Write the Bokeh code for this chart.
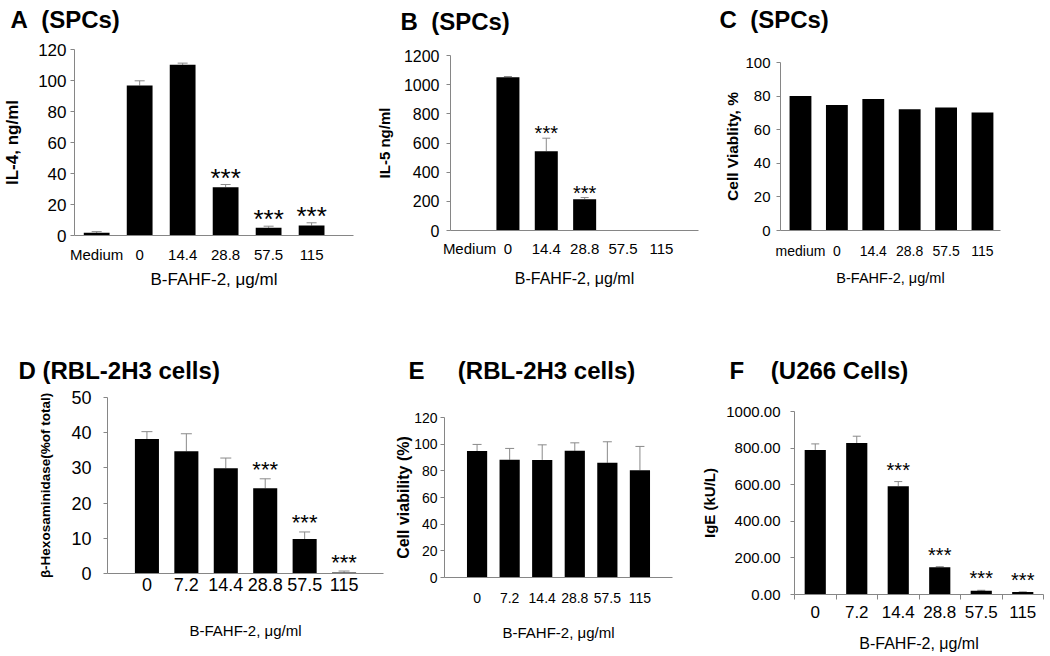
from bokeh.plotting import figure
from bokeh.layouts import row, column
from bokeh.models import ColumnDataSource, Whisker, TeeHead, FixedTicker, Range1d, NumeralTickFormatter
from bokeh.core.properties import value
from bokeh.embed import file_html
from bokeh.resources import INLINE

FONT = "Liberation Sans"
AXIS_GRAY = "#868686"
ERR_GRAY = "#8a8a8a"
XTITLE = "B-FAHF-2, \u03bcg/ml"

# ---------------- data ----------------
a_cats = ["Medium", "0", "14.4", "28.8", "57.5", "115"]
a_vals = [1.7, 96.8, 110.1, 31.2, 5.0, 6.4]
a_errs = [0.8, 3.0, 1.1, 1.7, 1.0, 1.8]
a_stars = [0, 0, 0, 1, 1, 1]
a_yticks = [0, 20, 40, 60, 80, 100, 120]

b_cats = ["Medium", "0", "14.4", "28.8", "57.5", "115"]
b_vals = [0, 1051, 544, 215, 0, 0]
b_errs = [0, 5, 89, 11, 0, 0]
b_stars = [0, 0, 1, 1, 0, 0]
b_yticks = [0, 200, 400, 600, 800, 1000, 1200]

c_cats = ["medium", "0", "14.4", "28.8", "57.5", "115"]
c_vals = [80.0, 74.7, 78.3, 72.2, 73.2, 70.2]
c_yticks = [0, 20, 40, 60, 80, 100]

d_cats = ["0", "7.2", "14.4", "28.8", "57.5", "115"]
d_vals = [38.2, 34.7, 29.9, 24.2, 9.8, 0.3]
d_errs = [2.1, 5.0, 2.9, 2.7, 2.0, 0.4]
d_stars = [0, 0, 0, 1, 1, 1]
d_yticks = [0, 10, 20, 30, 40, 50]

e_cats = ["0", "7.2", "14.4", "28.8", "57.5", "115"]
e_vals = [94.8, 88.3, 88.2, 95.0, 86.0, 80.5]
e_errs = [5.0, 8.5, 11.3, 6.0, 15.8, 17.8]
e_yticks = [0, 20, 40, 60, 80, 100, 120]

f_cats = ["0", "7.2", "14.4", "28.8", "57.5", "115"]
f_vals = [790, 828, 592, 149, 20, 13]
f_errs = [33, 37, 25, 3, 3, 1.5]
f_stars = [0, 0, 1, 1, 1, 1]
f_yticks = [0, 200, 400, 600, 800, 1000]


def title_strip(text, w, h, tx, ty):
    """A thin figure holding only the panel heading (y axis flipped: 0 at top)."""
    t = figure(width=w, height=h, output_backend="svg", toolbar_location=None,
               x_axis_type=None, y_axis_type=None,
               x_range=Range1d(0, w), y_range=Range1d(h, 0),
               min_border_left=0, min_border_right=0, min_border_top=0, min_border_bottom=0)
    t.outline_line_color = None
    t.xgrid.grid_line_color = None
    t.ygrid.grid_line_color = None
    t.background_fill_color = "white"
    t.border_fill_color = "white"
    t.text(x=[tx], y=[ty], text=[text], text_font=value(FONT), text_font_size="24px",
           text_font_style="bold", text_color="black", text_align="left",
           text_baseline="alphabetic")
    return t


def panel(cats, vals, errs, stars, yticks, st):
    xs = [i + st["shift"] for i in range(len(cats))]
    p = figure(width=st["w"], height=st["h"], output_backend="svg", toolbar_location=None,
               x_range=Range1d(st["xr"][0], st["xr"][1]), y_range=Range1d(yticks[0], yticks[-1]),
               min_border_left=st["mb"][0], min_border_right=st["mb"][1],
               min_border_top=st["mb"][2], min_border_bottom=st["mb"][3])
    p.outline_line_color = None
    p.xgrid.grid_line_color = None
    p.ygrid.grid_line_color = None
    p.background_fill_color = "white"
    p.border_fill_color = "white"

    src = ColumnDataSource(dict(x=xs, top=vals))
    p.vbar(x="x", top="top", width=st["bw"], source=src, fill_color="black", line_color=None)

    if errs is not None:
        upper = [v + e for v, e in zip(vals, errs)]
        wsrc = ColumnDataSource(dict(x=xs, upper=upper, lower=vals))
        wk = Whisker(source=wsrc, base="x", upper="upper", lower="lower", dimension="height",
                     line_color=ERR_GRAY, line_width=1,
                     upper_head=TeeHead(size=st["cap"], line_color=ERR_GRAY, line_width=1),
                     lower_head=None)
        p.add_layout(wk)
        if stars is not None:
            sx = [x for x, s in zip(xs, stars) if s]
            sy = [u for u, s in zip(upper, stars) if s]
            p.text(x=sx, y=sy, text=["***"] * len(sx), text_font=value(FONT),
                   text_font_size=st["star_fs"], text_align="center", text_baseline="alphabetic",
                   y_offset=st["star_off"], text_color="black")

    # y axis
    ya = p.yaxis[0]
    ya.ticker = FixedTicker(ticks=yticks, minor_ticks=[])
    ya.axis_line_color = AXIS_GRAY
    ya.major_tick_line_color = AXIS_GRAY
    ya.major_tick_in = 0
    ya.major_tick_out = 4
    ya.minor_tick_line_color = None
    ya.major_label_text_font = FONT
    ya.major_label_text_font_size = st["yt_fs"]
    ya.major_label_text_color = "black"
    ya.major_label_standoff = st["yt_stand"]
    ya.axis_label = st["ylabel"]
    ya.axis_label_text_font = FONT
    ya.axis_label_text_font_size = st["yl_fs"]
    ya.axis_label_text_font_style = "bold"
    ya.axis_label_text_color = "black"
    ya.axis_label_standoff = st["yl_stand"]
    if st.get("yfmt"):
        ya.formatter = NumeralTickFormatter(format=st["yfmt"])

    # x axis
    xa = p.xaxis[0]
    xa.ticker = FixedTicker(ticks=xs, minor_ticks=st.get("minor", []))
    xa.major_label_overrides = {x: c for x, c in zip(xs, cats)}
    xa.axis_line_color = AXIS_GRAY
    xa.major_tick_line_color = None
    xa.major_tick_in = 0
    xa.major_tick_out = 0
    if st.get("minor"):
        xa.minor_tick_line_color = AXIS_GRAY
        xa.minor_tick_in = 0
        xa.minor_tick_out = 5
    else:
        xa.minor_tick_line_color = None
    xa.major_label_text_font = FONT
    xa.major_label_text_font_size = st["xt_fs"]
    xa.major_label_text_color = "black"
    xa.major_label_standoff = st["xt_stand"]
    xa.axis_label = XTITLE
    xa.axis_label_text_font = FONT
    xa.axis_label_text_font_size = st["xl_fs"]
    xa.axis_label_text_font_style = "normal"
    xa.axis_label_text_color = "black"
    xa.axis_label_standoff = st["xl_stand"]

    t = title_strip(st["title"], st["w"], st["th"], st["t_xy"][0], st["t_xy"][1])
    return column(column(t), column(p))


NB = "\u00a0"

# row 1: title strip 36 px + plot 272 px
pA = panel(a_cats, a_vals, a_errs, a_stars, a_yticks, dict(
    shift=0, xr=(-0.516, 5.975), bw=0.6, w=372, h=272, mb=(70, 19, 13, 73),
    th=36, title="A" + NB * 2 + "(SPCs)", t_xy=(10, 19),
    cap=10, star_fs="26px", star_off=-7,
    yt_fs="17px", yt_stand=4, ylabel="IL-4, ng/ml", yl_fs="17px", yl_stand=13,
    xt_fs="15px", xt_stand=10, xl_fs="17px", xl_stand=4))

pB = panel(b_cats, b_vals, b_errs, b_stars, b_yticks, dict(
    shift=0, xr=(-0.497, 5.968), bw=0.6, w=340, h=272, mb=(69, 14, 19, 78),
    th=36, title="B" + NB * 2 + "(SPCs)", t_xy=(28, 21),
    cap=8, star_fs="20px", star_off=-5,
    yt_fs="16px", yt_stand=7, ylabel="IL-5 ng/ml", yl_fs="15px", yl_stand=8,
    xt_fs="15px", xt_stand=9, xl_fs="16px", xl_stand=10))

pC = panel(c_cats, c_vals, None, None, c_yticks, dict(
    shift=0, xr=(-0.549, 5.495), bw=0.6, w=336, h=272, mb=(68, 48, 26, 78),
    th=36, title="C" + NB * 2 + "(SPCs)", t_xy=(7, 19),
    yt_fs="15px", yt_stand=6, ylabel="Cell Viablity, %", yl_fs="15.5px", yl_stand=1,
    xt_fs="14px", xt_stand=12, xl_fs="14.5px", xl_stand=8))

# row 2 (starts at y=308): title strip 78 px + plot 268 px
pD = panel(d_cats, d_vals, d_errs, d_stars, d_yticks, dict(
    shift=1, xr=(0, 7), bw=0.61, w=392, h=268, mb=(107, 9, 11, 81),
    th=78, title="D (RBL-2H3 cells)", t_xy=(18, 62),
    cap=11, star_fs="22px", star_off=-9,
    yt_fs="18px", yt_stand=12, ylabel="\u03b2-Hexosaminidase(%of total)", yl_fs="13.5px", yl_stand=15,
    xt_fs="18px", xt_stand=4, xl_fs="15px", xl_stand=28))

pE = panel(e_cats, e_vals, e_errs, None, e_yticks, dict(
    shift=1, xr=(0, 7), bw=0.62, w=298, h=268, mb=(52, 18, 31, 77),
    th=78, title="E" + NB * 5 + "(RBL-2H3 cells)", t_xy=(16, 62),
    cap=9,
    yt_fs="14px", yt_stand=3, ylabel="Cell viability (%)", yl_fs="16px", yl_stand=-1,
    xt_fs="14px", xt_stand=15, xl_fs="15px", xl_stand=18))

pF = panel(f_cats, f_vals, f_errs, f_stars, f_yticks, dict(
    shift=0, xr=(-0.5, 5.5), bw=0.51, w=358, h=268, mb=(104, 5, 25, 60),
    th=78, title="F" + NB * 4 + "(U266 Cells)", t_xy=(39, 62),
    cap=8, star_fs="20px", star_off=-12,
    yt_fs="15px", yt_stand=10, ylabel="IgE (kU/L)", yl_fs="15px", yl_stand=5, yfmt="0.00",
    xt_fs="17px", xt_stand=6, xl_fs="16px", xl_stand=14,
    minor=[-0.5, 0.5, 1.5, 2.5, 3.5, 4.5, 5.5]))

layout = column(row(pA, pB, pC), row(pD, pE, pF))
open("out.html", "w").write(file_html(layout, INLINE))
